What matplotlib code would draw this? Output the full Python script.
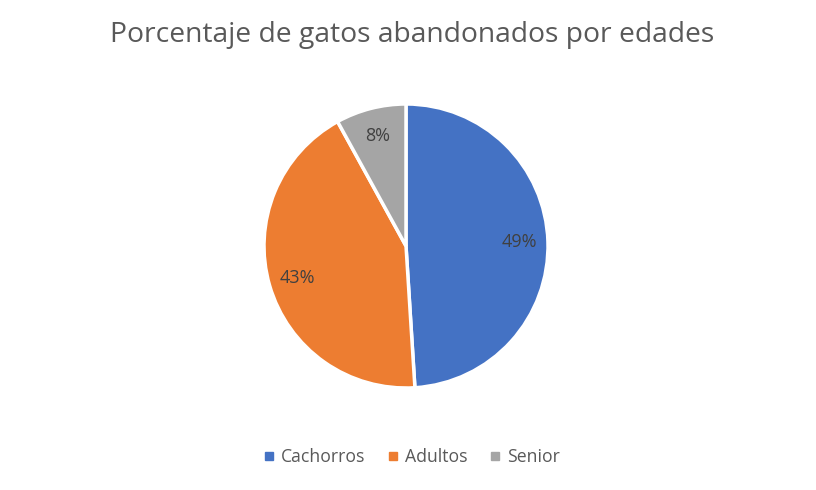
import matplotlib
matplotlib.use("Agg")
import matplotlib.pyplot as plt
from matplotlib.lines import Line2D

categories = ["Cachorros", "Adultos", "Senior"]
values = [49, 43, 8]
colors = ["#4472C4", "#ED7D31", "#A5A5A5"]
title = "Porcentaje de gatos abandonados por edades"

plt.rcParams['font.family'] = ['Open Sans', 'DejaVu Sans']

fig = plt.figure(figsize=(8.16, 4.9), dpi=100)
fig.patch.set_facecolor("white")
ax = fig.add_axes([264/816, (490-388)/490, 284/816, 284/490])
wedges, texts, autotexts = ax.pie(
    values, colors=colors, startangle=90, counterclock=False,
    autopct=lambda p: f"{p:.0f}%", pctdistance=0.8, radius=1.0,
    wedgeprops=dict(edgecolor="white", linewidth=2.5),
    textprops=dict(color="#404040", fontsize=13))
ax.set_xlim(-1.0, 1.0)
ax.set_ylim(-1.0, 1.0)
ax.set_aspect("equal")

fig.text(0.5 + 4/816, 1 - 35/490, title, ha="center", va="center", fontsize=20.3, color="#595959")

handles = [Line2D([0], [0], marker="s", linestyle="none", markersize=6,
                  markerfacecolor=c, markeredgecolor=c) for c in colors]
leg = fig.legend(handles, categories, loc="center", bbox_to_anchor=(0.5 + 2/816, 1 - 457/490),
                 ncol=3, frameon=False, fontsize=12.7, handletextpad=0.2,
                 columnspacing=1.05, handlelength=1.0, labelcolor="#595959")

fig.savefig("out.png", dpi=100, facecolor="white")
